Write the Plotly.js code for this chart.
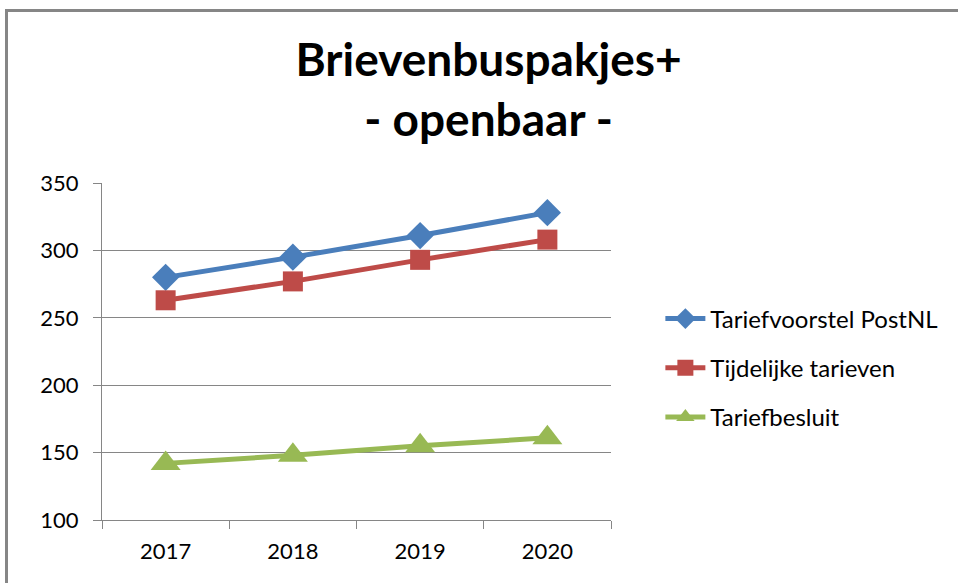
<!DOCTYPE html>
<html>
<head>
<meta charset="utf-8">
<script src="https://cdn.plot.ly/plotly-3.0.1.min.js"></script>
<style>
  html, body { margin: 0; padding: 0; background: #fff; overflow: hidden; }
  #frame { position: absolute; left: 5px; top: 9px; width: 1000px; height: 1000px; border: 3px solid #868686; box-sizing: border-box; pointer-events: none; z-index: 5; }
  #chart { position: absolute; left: 0; top: 0; width: 958px; height: 583px; }
</style>
</head>
<body>
<div id="chart"></div>
<div id="frame"></div>
<script>
const years = ['2017', '2018', '2019', '2020'];
const tariefvoorstelPostNL = [280, 295, 311, 328];
const tijdelijkeTarieven = [263, 277, 293, 308];
const tariefbesluit = [142, 148, 155, 161];
const seriesNames = ['Tariefvoorstel PostNL', 'Tijdelijke tarieven', 'Tariefbesluit'];
const yTicks = [100, 150, 200, 250, 300, 350];

const FONT = 'Lato, Carlito, Calibri, sans-serif';

function mk(name, y, color, symbol, size, group) {
  return {
    type: 'scatter', mode: 'lines+markers', name: name, x: years, y: y,
    legendgroup: group,
    line: { color: color, width: 5 },
    marker: { color: color, symbol: symbol, size: size, line: { width: 0 } }
  };
}

const data = [
  mk(seriesNames[0], tariefvoorstelPostNL, '#4A7EBB', 'diamond', 21, 'a'),
  mk(seriesNames[1], tijdelijkeTarieven, '#BE4B48', 'square', 20, 'b'),
  mk(seriesNames[2], tariefbesluit, '#98B954', 'triangle-up', 26, 'c')
];

const layout = {
  width: 958, height: 583,
  margin: { l: 102, r: 347, t: 183, b: 63 },
  paper_bgcolor: '#ffffff', plot_bgcolor: '#ffffff',
  font: { family: FONT, size: 22, color: '#000000' },
  title: {
    text: '<b>Brievenbuspakjes+</b><br><b>- openbaar -</b>',
    font: { family: FONT, size: 46, color: '#000000' },
    x: 0.51, xanchor: 'center', y: 0.869, yanchor: 'middle'
  },
  xaxis: {
    type: 'category', range: [-0.5, 3.5],
    showgrid: false, showline: true, linecolor: '#868686', linewidth: 1,
    ticks: 'outside', tickson: 'boundaries', ticklen: 8, tickcolor: '#868686',
    ticklabelstandoff: 12,
    tickfont: { family: FONT, size: 22, color: '#000' },
    zeroline: false, fixedrange: true
  },
  yaxis: {
    range: [100, 350], tickvals: yTicks, ticktext: yTicks.map(String),
    showgrid: true, gridcolor: '#868686', gridwidth: 1,
    showline: true, linecolor: '#868686', linewidth: 1,
    ticks: 'outside', ticklen: 8, tickcolor: '#868686',
    ticklabelstandoff: 10,
    tickfont: { family: FONT, size: 22, color: '#000' },
    zeroline: false, fixedrange: true
  },
  showlegend: true,
  legend: {
    x: 1.097, xanchor: 'left', y: 0.451, yanchor: 'middle',
    traceorder: 'grouped', tracegroupgap: 15,
    font: { family: FONT, size: 24, color: '#000' },
    bgcolor: 'rgba(0,0,0,0)', itemwidth: 40
  }
};

Plotly.newPlot('chart', data, layout, { displayModeBar: false, staticPlot: true });
</script>
</body>
</html>
